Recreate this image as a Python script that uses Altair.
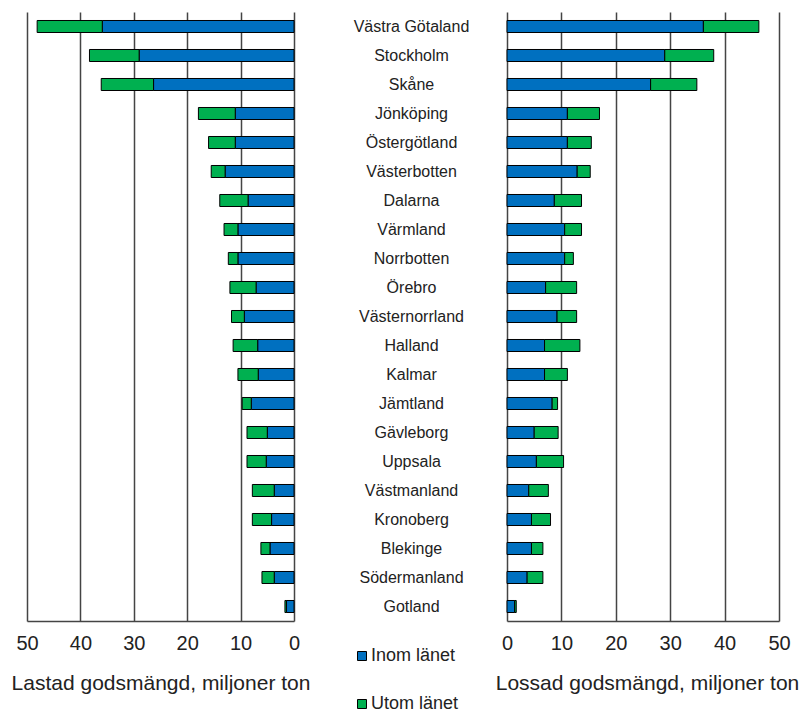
import altair as alt
import pandas as pd

regions = ["Västra Götaland", "Stockholm", "Skåne", "Jönköping", "Östergötland",
           "Västerbotten", "Dalarna", "Värmland", "Norrbotten", "Örebro",
           "Västernorrland", "Halland", "Kalmar", "Jämtland", "Gävleborg",
           "Uppsala", "Västmanland", "Kronoberg", "Blekinge", "Södermanland", "Gotland"]
lastad_inom = [35.9, 29.0, 26.3, 11.0, 11.0, 12.9, 8.6, 10.5, 10.5, 7.1, 9.3,
               6.8, 6.7, 8.0, 5.0, 5.2, 3.7, 4.2, 4.5, 3.7, 1.4]
lastad_utom = [12.2, 9.3, 9.8, 6.9, 5.0, 2.6, 5.3, 2.6, 1.8, 4.9, 2.4,
               4.6, 3.8, 1.7, 3.8, 3.6, 4.1, 3.6, 1.7, 2.3, 0.3]
lossad_inom = [36.1, 29.0, 26.4, 11.1, 11.1, 12.9, 8.7, 10.6, 10.6, 7.1, 9.2,
               6.9, 6.9, 8.3, 5.0, 5.4, 4.0, 4.5, 4.5, 3.7, 1.4]
lossad_utom = [10.2, 9.0, 8.5, 5.9, 4.4, 2.4, 5.0, 3.1, 1.6, 5.7, 3.6,
               6.5, 4.2, 1.0, 4.4, 5.0, 3.6, 3.5, 2.1, 2.9, 0.3]
series = ["Inom länet", "Utom länet"]
colors = ["#0070C0", "#00B050"]
ticks = [0, 10, 20, 30, 40, 50]
title_left = "Lastad godsmängd, miljoner ton"
title_right = "Lossad godsmängd, miljoner ton"


def long(inom, utom):
    rows = []
    for r, a, b in zip(regions, inom, utom):
        rows.append({"region": r, "serie": series[0], "value": a, "ord": 0})
        rows.append({"region": r, "serie": series[1], "value": b, "ord": 1})
    return pd.DataFrame(rows)


df_l = long(lastad_inom, lastad_utom)
df_r = long(lossad_inom, lossad_utom)
df_m = pd.DataFrame({"region": regions})

FONT = "Liberation Sans, Arial"
H = 609
PI = 0.586

y_enc = alt.Y("region:N", sort=regions, axis=None,
              scale=alt.Scale(paddingInner=PI, paddingOuter=PI / 2))
color = alt.Color("serie:N", scale=alt.Scale(domain=series, range=colors),
                  legend=alt.Legend(title=None, orient="none", legendX=326, legendY=635,
                                    direction="vertical", symbolType="square",
                                    symbolSize=81, symbolStrokeColor="black",
                                    symbolStrokeWidth=1, labelFontSize=18,
                                    labelFont=FONT, labelColor="#222",
                                    rowPadding=30, symbolOffset=0, labelOffset=0))


def axis(title, tx=None):
    kw = {}
    if tx is not None:
        kw["titleX"] = tx
    return alt.Axis(values=ticks, title=title, grid=True, ticks=False,
                    domain=True, domainColor="#444", domainWidth=1.5,
                    gridColor="#444", gridWidth=1.5, labelFlush=False,
                    labelFontSize=20, labelFont=FONT, labelColor="#222",
                    labelPadding=12, titleFontSize=21, titleFont=FONT,
                    titleFontWeight="normal", titleColor="#222", titlePadding=19,
                    **kw)


left = alt.Chart(df_l).mark_bar(stroke="black", strokeWidth=1).encode(
    x=alt.X("value:Q", stack="zero",
            scale=alt.Scale(domain=[0, 50], reverse=True, nice=False),
            axis=axis(title_left)),
    y=y_enc, color=color, order=alt.Order("ord:Q"),
).properties(width=267, height=H)

right = alt.Chart(df_r).mark_bar(stroke="black", strokeWidth=1).encode(
    x=alt.X("value:Q", stack="zero",
            scale=alt.Scale(domain=[0, 50], nice=False),
            axis=axis(title_right, 140)),
    y=y_enc, color=color, order=alt.Order("ord:Q"),
).properties(width=272, height=H)

mid = alt.Chart(df_m).mark_text(fontSize=16, font=FONT, color="#222", dx=9).encode(
    y=y_enc, text="region:N",
).properties(width=185, height=H)

chart = alt.hconcat(left, mid, right, spacing=0).properties(
    padding={"left": 3, "top": 4, "right": 0, "bottom": 0}
).configure_view(strokeWidth=0)

chart.save("out.html", embed_options={"renderer": "svg", "actions": False})
